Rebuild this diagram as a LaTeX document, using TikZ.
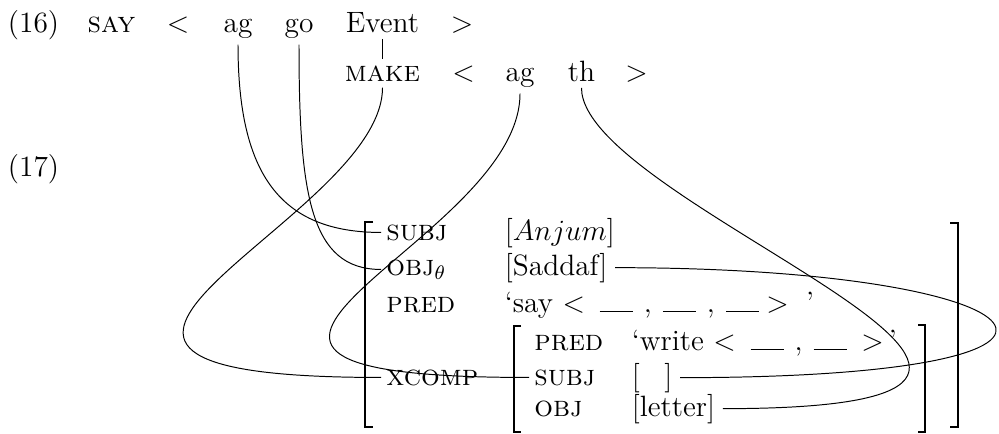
\documentclass[12pt,tikz,border=0pt]{standalone}
\usetikzlibrary{positioning}

\newcommand{\argslot}{\rule{13.5pt}{0.6pt}}

\begin{document}
\begin{tikzpicture}[
		x=0.408pt,y=-0.408pt,
		word/.style={anchor=base,inner sep=2.5pt},
		attr/.style={anchor=base west,inner sep=2pt},
		val/.style={anchor=base west,inner sep=3pt},
		bracket/.style={line width=0.8pt},
		link/.style={line width=0.4pt}
		]
		\useasboundingbox (0,0) rectangle (999,433);
		% (16)
		\node[word] (ex16) at (33.5,32) {(16)};
		\node[word] (say) at (111.5,32) {\textsc{say}};
		\node[word] (lt1) at (178,32) {$<$};
		\node[word] (ag1) at (238,32) {ag};
		\node[word] (go) at (299,32) {go};
		\node[word] (event) at (382.5,32) {Event};
		\node[word] (gt1) at (462,32) {$>$};
		\node[word] (make) at (382.5,81) {\textsc{make}};
		\node[word] (lt2) at (463.5,81) {$<$};
		\node[word] (ag2) at (520,81) {ag};
		\node[word] (th) at (581.5,81) {th};
		\node[word] (gt2) at (636.5,81) {$>$};
		% (17)
		\node[word] (ex17) at (33.5,176) {(17)};
		\node[attr] (subj) at (381,240) {\textsc{subj}};
		\node[attr] (objt) at (381,275) {\textsc{obj}$_\theta$};
		\node[attr] (pred) at (381,312) {\textsc{pred}};
		\node[attr] (xcomp) at (381,385) {\textsc{xcomp}};
		\node[val] (anjum) at (497,240) {[$Anjum$]};
		\node[val] (saddaf) at (497,275) {[Saddaf]};
		\node[val] (sayval) at (497,312) {`say $<$\hspace{6pt}\argslot\hspace{4.5pt},\hspace{4.5pt}\argslot\hspace{4.5pt},\hspace{4.5pt}\argslot\hspace{3pt}$>$\hspace{7pt}'};
		\node[attr] (ipred) at (529,350) {\textsc{pred}};
		\node[attr] (isubj) at (529,385) {\textsc{subj}};
		\node[attr] (iobj) at (529,416) {\textsc{obj}};
		\node[val] (write) at (624,350) {`write $<$\hspace{6pt}\argslot\hspace{4.5pt},\hspace{4.5pt}\argslot\hspace{6pt}$>$\hspace{2pt}'};
		\node[val] (blank) at (624,385) {[\hspace{10pt}]};
		\node[val] (letter) at (624,416) {[letter]};
		% brackets
		\draw[bracket] (373,222) -| (365,427) -- (373,427);
		\draw[bracket] (950,223) -| (958,427) -- (950,427);
		\draw[bracket] (521,326) -| (514,432) -- (521,432);
		\draw[bracket] (918,325) -| (925,432) -- (918,432);
		% links
		\path[link]
		(event) edge (make)
		(ag1) edge[out=-90,in=180,out distance=53pt,in distance=41pt] (subj)
		(go) edge[out=-90,in=180,out distance=61pt,in distance=29pt] (objt)
		(make) edge[out=-90,in=180,out distance=55pt,in distance=182pt] (xcomp)
		(ag2) edge[out=-90,in=180,out distance=62pt,in distance=181pt] (isubj)
		(th) edge[out=-90,in=0,out distance=49pt,in distance=200pt] (letter)
		(saddaf) edge[out=0,in=0,out distance=180pt,in distance=196pt] (blank);
	\end{tikzpicture}
\end{document}
